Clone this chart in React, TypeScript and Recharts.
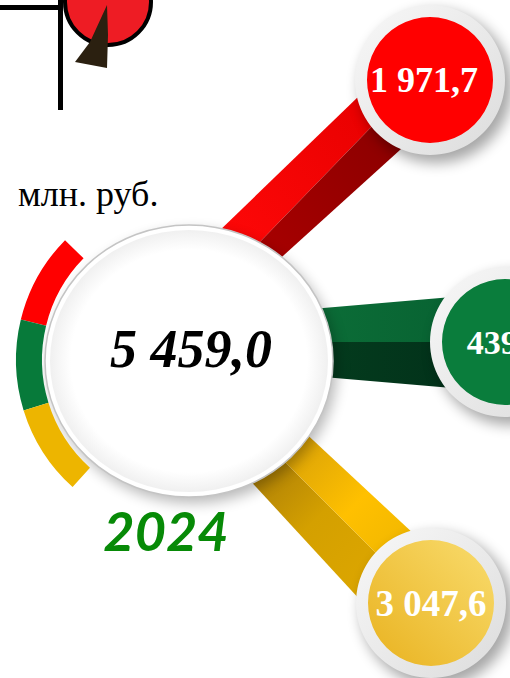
import React from 'react';
import { PieChart, Pie, Cell, Customized } from 'recharts';

const categories = ['Часть 1', 'Часть 2', 'Часть 3'];
const values = [1971.7, 439.7, 3047.6];
const ringShare = [1, 1, 1];
const unitLabel = 'млн. руб.';
const yearLabel = '2024';

const ringColors = ['#ff0000', '#077a3a', '#edb500'];
const bubbleFills = ['#ff0000', '#0a7d3c', 'url(#gYellowBubble)'];
const bubbleCenters: [number, number][] = [[430, 80], [505, 342], [431, 603]];
const bubbleFont = [36, 34, 37];
const labelShift = [-6, 0, 0];

const W = 510;
const H = 678;
const CX = 189;
const CY = 361;

function fmt(v: number): string {
  const [i, d] = v.toFixed(1).split('.');
  return i.replace(/\B(?=(\d{3})+(?!\d))/g, ' ') + ',' + d;
}

const total = values.reduce((a, b) => a + b, 0);
const ringData = categories.map((name, i) => ({ name, value: ringShare[i] }));
const bubbleData = categories.map((name, i) => ({ name, value: values[i] }));

const Decor = () => (
  <g>
    {/* top-left icon */}
    <circle cx={108} cy={2} r={43} fill="#ee1c24" stroke="#000" strokeWidth={4} />
    <path d="M0 7.5 H63" stroke="#000" strokeWidth={5} />
    <path d="M60.5 0 V110" stroke="#000" strokeWidth={5} />
    <polygon points="107,5 90,42 75,62 107,68 108,35" fill="#2b2010" />

    {/* ribbons */}
    <path d="M215,235 L360,95 L380,118 L252,250 Z" fill="url(#gRedL)" />
    <path d="M252,250 L380,118 L411,140 L273,265 Z" fill="url(#gRedD)" />
    <path d="M300,310 L452,297 L452,342 L300,342 Z" fill="url(#gGreenL)" />
    <path d="M300,342 L452,342 L452,388 L300,375 Z" fill="url(#gGreenD)" />
    <path d="M245,475 L273,450 L380,557 L362,602 Z" fill="url(#gYelD)" />
    <path d="M273,450 L300,428 L415,535 L380,557 Z" fill="url(#gYelL)" />

    {/* shadows */}
    <ellipse cx={CX + 4} cy={CY + 6} rx={144} ry={136} fill="#000" opacity={0.28} filter="url(#blur)" />
    {bubbleCenters.map(([x, y], i) => (
      <circle key={i} cx={x + 6} cy={y + 7} r={76} fill="#000" opacity={0.35} filter="url(#blur)" />
    ))}

    {/* central disc */}
    <ellipse cx={CX} cy={CY} rx={144} ry={136} fill="#fff" stroke="#c4c4c4" strokeWidth={1.5} />
    <ellipse cx={CX} cy={CY} rx={139} ry={131} fill="url(#gDisc)" />

    <text x={191} y={367} textAnchor="middle" fontFamily="'Liberation Serif', serif" fontStyle="italic" fontWeight="bold" fontSize={54} fill="#000">
      {fmt(total)}
    </text>
    <text x={18} y={206} fontFamily="'Liberation Serif', serif" fontSize={36} fill="#000">{unitLabel}</text>
    <text x={166} y={551} textAnchor="middle" fontFamily="Lato, sans-serif" fontStyle="italic" fontWeight="bold" fontSize={54} fill="#078a07">{yearLabel}</text>
  </g>
);

const makeLabel = (i: number) => (props: any) => {
  const x = (props.cx ?? bubbleCenters[i][0]) + labelShift[i];
  const y = props.cy ?? bubbleCenters[i][1];
  return (
    <text x={x} y={y} dy={bubbleFont[i] * 0.34} textAnchor="middle" fill="#fff" fontFamily="'Liberation Serif', serif" fontWeight="bold" fontSize={bubbleFont[i]}>
      {fmt(values[i])}
    </text>
  );
};

export default function App() {
  return (
    <div style={{ width: W, height: H, position: 'absolute', left: 0, top: 0, background: '#fff' }}>
      <PieChart width={W} height={H} margin={{ top: 0, right: 0, bottom: 0, left: 0 }}>
        <defs>
          <filter id="blur" x="-30%" y="-30%" width="160%" height="160%">
            <feGaussianBlur stdDeviation="7" />
          </filter>
          <linearGradient id="gRedL" gradientUnits="userSpaceOnUse" x1="215" y1="250" x2="380" y2="100">
            <stop offset="0" stopColor="#ff0808" />
            <stop offset="1" stopColor="#e80000" />
          </linearGradient>
          <linearGradient id="gRedD" gradientUnits="userSpaceOnUse" x1="260" y1="260" x2="410" y2="130">
            <stop offset="0" stopColor="#a80000" />
            <stop offset="1" stopColor="#8a0000" />
          </linearGradient>
          <linearGradient id="gGreenL" x1="0" y1="0" x2="1" y2="0">
            <stop offset="0" stopColor="#0c6e38" />
            <stop offset="1" stopColor="#086332" />
          </linearGradient>
          <linearGradient id="gGreenD" x1="0" y1="0" x2="1" y2="0">
            <stop offset="0" stopColor="#043d1e" />
            <stop offset="1" stopColor="#02321a" />
          </linearGradient>
          <linearGradient id="gYelD" gradientUnits="userSpaceOnUse" x1="255" y1="460" x2="375" y2="580">
            <stop offset="0" stopColor="#a97c08" />
            <stop offset="0.5" stopColor="#d4a000" />
            <stop offset="1" stopColor="#dca600" />
          </linearGradient>
          <linearGradient id="gYelL" gradientUnits="userSpaceOnUse" x1="285" y1="440" x2="400" y2="550">
            <stop offset="0" stopColor="#d69f08" />
            <stop offset="0.6" stopColor="#ffc000" />
            <stop offset="1" stopColor="#f2b800" />
          </linearGradient>
          <linearGradient id="gYellowBubble" x1="1" y1="0" x2="0" y2="1">
            <stop offset="0" stopColor="#f9dc6e" />
            <stop offset="1" stopColor="#e9b21f" />
          </linearGradient>
          <linearGradient id="gGrayRing" x1="0" y1="0" x2="1" y2="1">
            <stop offset="0" stopColor="#f8f8f8" />
            <stop offset="1" stopColor="#dcdcdc" />
          </linearGradient>
          <radialGradient id="gDisc" cx="0.5" cy="0.5" r="0.5">
            <stop offset="0.85" stopColor="#ffffff" />
            <stop offset="1" stopColor="#f0f0f0" />
          </radialGradient>
        </defs>
        <Customized component={<Decor />} />
        <Pie
          data={ringData}
          dataKey="value"
          cx={187}
          cy={360}
          innerRadius={145}
          outerRadius={171}
          startAngle={135.5}
          endAngle={228}
          stroke="none"
          isAnimationActive={false}
        >
          {ringData.map((d, i) => (
            <Cell key={d.name} fill={ringColors[i]} />
          ))}
        </Pie>
        {bubbleData.map((d, i) => (
          <Pie
            key={'ring' + i}
            data={[d]}
            dataKey="value"
            cx={bubbleCenters[i][0]}
            cy={bubbleCenters[i][1]}
            innerRadius={62}
            outerRadius={75}
            fill="url(#gGrayRing)"
            stroke="none"
            isAnimationActive={false}
          />
        ))}
        {bubbleData.map((d, i) => (
          <Pie
            key={'bub' + i}
            data={[d]}
            dataKey="value"
            cx={bubbleCenters[i][0]}
            cy={bubbleCenters[i][1]}
            outerRadius={63}
            fill={bubbleFills[i]}
            stroke="none"
            label={makeLabel(i)}
            labelLine={false}
            isAnimationActive={false}
          />
        ))}
      </PieChart>
    </div>
  );
}
